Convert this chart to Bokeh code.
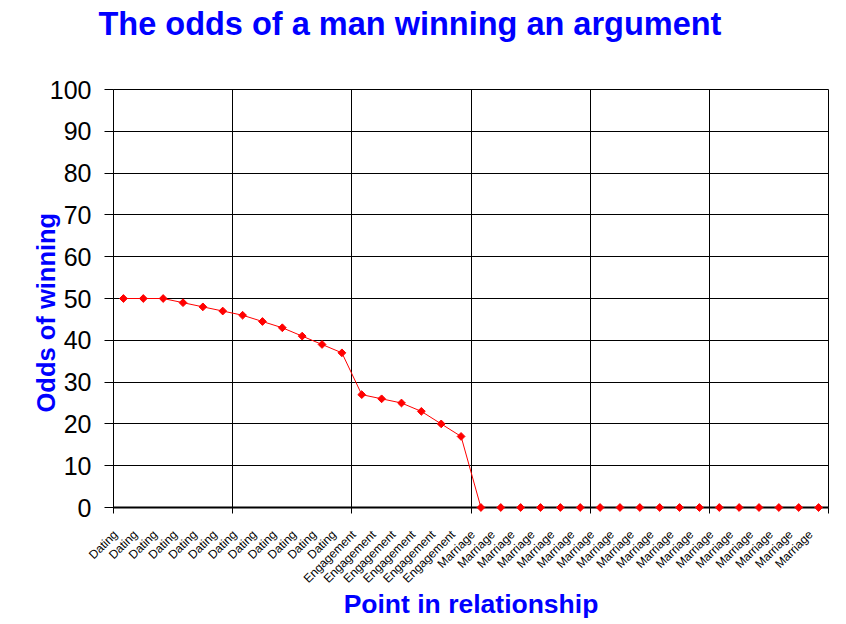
from math import pi
from bokeh.plotting import figure
from bokeh.models import Range1d, FixedTicker, Title
from bokeh.embed import file_html
from bokeh.resources import INLINE

# ---- data ----
stages = ["Dating"] * 12 + ["Engagement"] * 6 + ["Marriage"] * 18
odds = [50, 50, 50, 49, 48, 47, 46, 44.5, 43, 41, 39, 37,
        27, 26, 25, 23, 20, 17,
        0, 0, 0, 0, 0, 0, 0, 0, 0, 0, 0, 0, 0, 0, 0, 0, 0, 0]
y_ticks = [0, 10, 20, 30, 40, 50, 60, 70, 80, 90, 100]
title_text = "The odds of a man winning an argument"
x_title = "Point in relationship"
y_title = "Odds of winning"

n = len(stages)
xs = list(range(n))
boundaries = [i - 0.5 for i in range(0, n + 1, 6)]
LABEL_SHIFT = 0.4  # Excel draws the slanted labels slightly left of each category
label_pos = [i - LABEL_SHIFT for i in xs]

FONT = "Liberation Sans"
BLUE = "#0000FF"

p = figure(width=846, height=624, output_backend="svg", toolbar_location=None,
           x_range=Range1d(-0.5, n - 0.5), y_range=Range1d(0, 100),
           min_border_left=113, min_border_right=18,
           min_border_top=89, min_border_bottom=117,
           title=None)
p.background_fill_color = "white"
p.border_fill_color = "white"
p.outline_line_color = "black"
p.outline_line_width = 1

# title: an empty spacer panel next to the frame, then the real title above it
p.add_layout(Title(text="\u00a0", text_font_size="40px", standoff=0), "above")
p.add_layout(Title(text=title_text, text_font=FONT, text_font_size="32.5px",
                   text_font_style="bold", text_color=BLUE, align="left",
                   offset=-15, standoff=0, vertical_align="top"), "above")

# x axis
xa = p.xaxis[0]
xa.ticker = FixedTicker(ticks=label_pos, minor_ticks=boundaries)
xa.major_label_overrides = {pos: s for pos, s in zip(label_pos, stages)}
xa.major_label_orientation = pi / 4
xa.major_tick_line_color = None
xa.major_tick_out = 0
xa.major_tick_in = 0
xa.minor_tick_line_color = "black"
xa.minor_tick_out = 6
xa.minor_tick_in = 0
xa.major_label_standoff = 19
xa.major_label_text_font = FONT
xa.major_label_text_font_size = "12px"
xa.major_label_text_color = "black"
xa.axis_line_color = "black"
xa.axis_line_width = 2
xa.axis_label = x_title
xa.axis_label_text_font = FONT
xa.axis_label_text_font_size = "26.5px"
xa.axis_label_text_font_style = "bold"
xa.axis_label_text_color = BLUE
xa.axis_label_standoff = -5

# y axis
ya = p.yaxis[0]
ya.ticker = FixedTicker(ticks=y_ticks)
ya.major_tick_out = 9
ya.major_tick_in = 0
ya.major_tick_line_color = "black"
ya.minor_tick_line_color = None
ya.major_label_standoff = 13
ya.major_label_text_font = FONT
ya.major_label_text_font_size = "25px"
ya.major_label_text_color = "black"
ya.axis_line_color = "black"
ya.axis_line_width = 1
ya.axis_label = y_title + "\u00a0" * 4
ya.axis_label_text_font = FONT
ya.axis_label_text_font_size = "25.5px"
ya.axis_label_text_font_style = "bold"
ya.axis_label_text_color = BLUE
ya.axis_label_standoff = -13

# grids
p.xgrid.ticker = FixedTicker(ticks=boundaries)
p.ygrid.ticker = FixedTicker(ticks=y_ticks)
for g in (p.xgrid[0], p.ygrid[0]):
    g.grid_line_color = "black"
    g.grid_line_width = 1
    g.grid_line_alpha = 1.0

# series
p.line(xs, odds, line_color="red", line_width=1)
r = p.scatter(xs, odds, marker="square", angle=pi / 4, size=5.5,
              fill_color="red", line_color="red")
r.level = "overlay"

open("out.html", "w").write(file_html(p, INLINE))
